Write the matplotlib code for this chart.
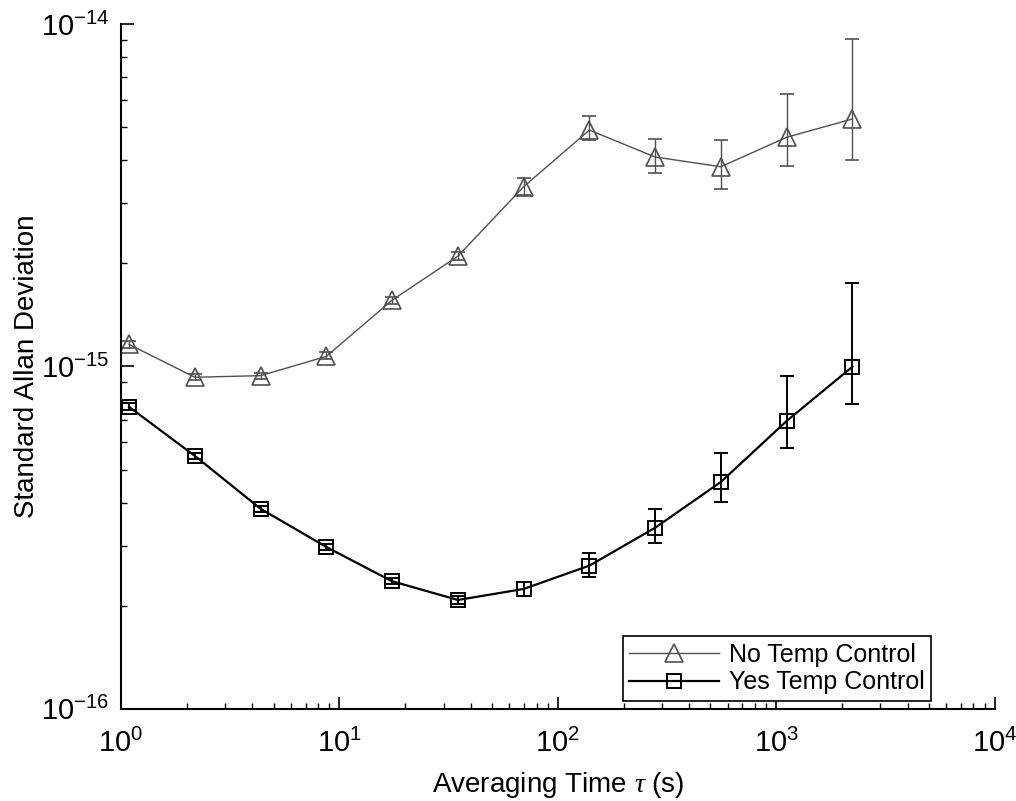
import matplotlib
matplotlib.use("Agg")
import matplotlib.pyplot as plt
from matplotlib.lines import Line2D
import numpy as np

plt.rcParams['font.family'] = ['Liberation Sans', 'DejaVu Sans']
plt.rcParams['mathtext.fontset'] = 'custom'
plt.rcParams['mathtext.rm'] = 'Liberation Sans'
plt.rcParams['mathtext.it'] = 'Liberation Serif:italic'

# averaging times (s)
tau = [1.09, 2.18, 4.36, 8.72, 17.4, 34.9, 69.8, 139.5, 279, 558, 1116, 2232]

# no temperature control
no_temp = [1.16e-15, 0.93e-15, 0.94e-15, 1.07e-15, 1.56e-15, 2.10e-15,
           3.35e-15, 4.90e-15, 4.09e-15, 3.83e-15, 4.67e-15, 5.28e-15]
no_lo = [1.13e-15, 0.91e-15, 0.92e-15, 1.05e-15, 1.52e-15, 2.05e-15,
         3.17e-15, 4.58e-15, 3.67e-15, 3.30e-15, 3.85e-15, 4.01e-15]
no_hi = [1.19e-15, 0.95e-15, 0.96e-15, 1.10e-15, 1.60e-15, 2.16e-15,
         3.55e-15, 5.38e-15, 4.61e-15, 4.58e-15, 6.25e-15, 9.04e-15]

# with temperature control
yes_temp = [7.62e-16, 5.48e-16, 3.84e-16, 2.97e-16, 2.36e-16, 2.08e-16,
            2.24e-16, 2.62e-16, 3.38e-16, 4.60e-16, 6.93e-16, 9.98e-16]
yes_lo = [7.45e-16, 5.36e-16, 3.76e-16, 2.91e-16, 2.31e-16, 2.03e-16,
          2.14e-16, 2.43e-16, 3.05e-16, 4.02e-16, 5.78e-16, 7.78e-16]
yes_hi = [7.80e-16, 5.60e-16, 3.92e-16, 3.03e-16, 2.41e-16, 2.13e-16,
          2.35e-16, 2.85e-16, 3.84e-16, 5.58e-16, 9.38e-16, 1.75e-15]

labels = ['No Temp Control', 'Yes Temp Control']
xticks = [1, 10, 100, 1000, 10000]
yticks = [1e-16, 1e-15, 1e-14]


def err(y, lo, hi):
    y = np.array(y)
    return [y - np.array(lo), np.array(hi) - y]


fig = plt.figure(figsize=(10.16, 8.01), dpi=100)
ax = fig.add_axes([0.119, 0.115, 0.860, 0.855])

ax.errorbar(tau, no_temp, yerr=err(no_temp, no_lo, no_hi), color='#505050',
            lw=1.0, marker='^', ms=13, mfc='none', mew=1.2, capsize=5,
            elinewidth=1.0, capthick=1.0)
ax.errorbar(tau, yes_temp, yerr=err(yes_temp, yes_lo, yes_hi), color='black',
            lw=1.6, marker='s', ms=9.5, mfc='none', mew=1.4, capsize=5,
            elinewidth=1.4, capthick=1.4)

ax.set_xscale('log')
ax.set_yscale('log')
ax.set_xticks(xticks)
ax.set_yticks(yticks)
ax.set_xlim(1, 1e4)
ax.set_ylim(1e-16, 1e-14)

for s in ['top', 'right']:
    ax.spines[s].set_visible(False)
for s in ['left', 'bottom']:
    ax.spines[s].set_linewidth(1.5)

ax.tick_params(which='major', direction='in', length=9, width=1.2,
               labelsize=21)
ax.tick_params(axis='x', which='major', pad=14)
ax.tick_params(axis='y', which='major', pad=8)
ax.tick_params(which='minor', direction='in', length=4, width=1.0)

ax.set_xlabel(r'Averaging Time $\tau$ (s)', fontsize=20, labelpad=9)
ax.set_ylabel('Standard Allan Deviation', fontsize=20, labelpad=1)

handles = [Line2D([], [], color='#505050', lw=1.0, marker='^', ms=13,
                  mfc='none', mew=1.2),
           Line2D([], [], color='black', lw=1.6, marker='s', ms=9.5,
                  mfc='none', mew=1.4)]
leg = ax.legend(handles, labels, loc='lower right',
                bbox_to_anchor=(0.927, 0.012), fontsize=18,
                fancybox=False, edgecolor='black', framealpha=1,
                handlelength=3.6, handletextpad=0.4, borderpad=0.25,
                labelspacing=0.15, borderaxespad=0)
leg.get_frame().set_linewidth(1.2)

fig.savefig('out.png', dpi=100)
